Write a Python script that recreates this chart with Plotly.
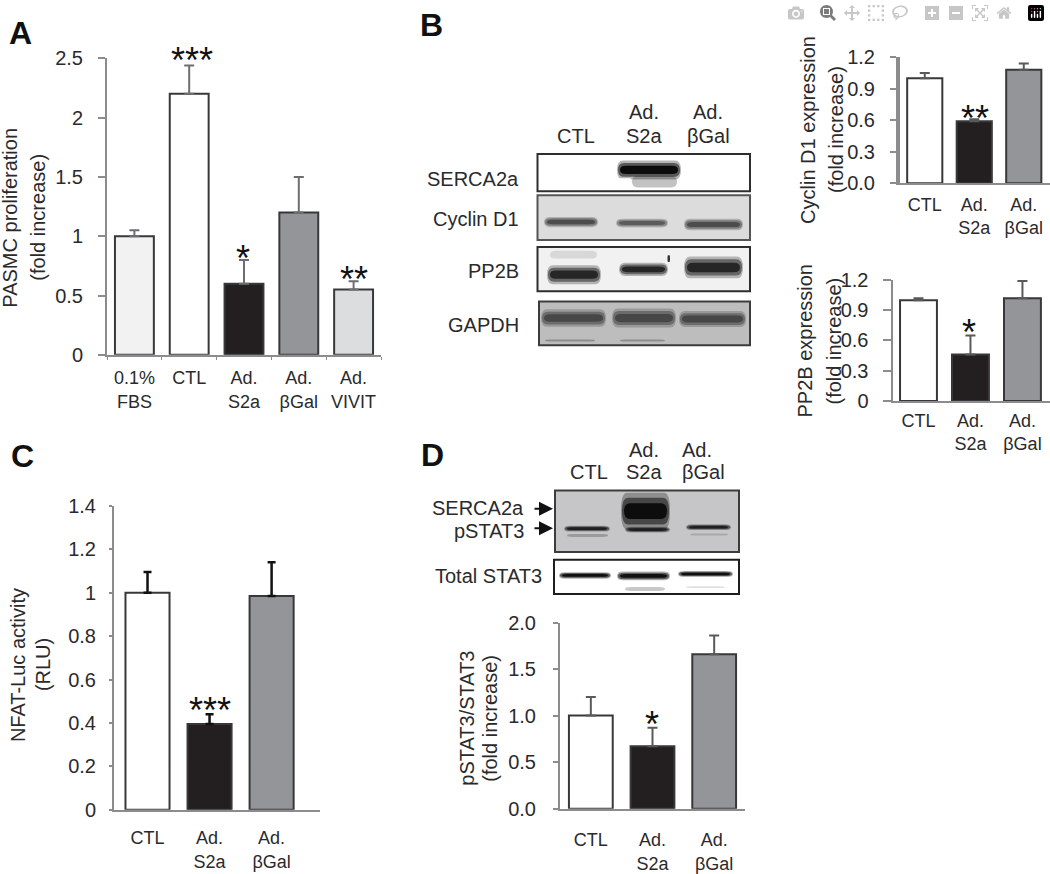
import plotly.graph_objects as go

W, H = 1050, 874
FONT = "Liberation Sans"
INK = "#2a2a2c"
AXIS = "#8c8c8e"

# bar colours
WHITE, PALE, BLACK, GREY, LIGHT = "#ffffff", "#f2f2f2", "#231f20", "#939598", "#dcddde"

# panel A
a_labels = ["0.1%<br>FBS", "CTL", "Ad.<br>S2a", "Ad.<br>βGal", "Ad.<br>VIVIT"]
a_values = [1.0, 2.2, 0.6, 1.2, 0.55]
a_errors = [0.05, 0.24, 0.2, 0.3, 0.07]
a_ticks = [0, 0.5, 1, 1.5, 2, 2.5]
a_ticktext = ["0", "0.5", "1", "1.5", "2", "2.5"]

# panel B, the two small charts
three_labels = ["CTL", "Ad.<br>S2a", "Ad.<br>βGal"]
cyclin_values = [1.0, 0.59, 1.08]
cyclin_errors = [0.05, 0.02, 0.06]
cyclin_ticks = [0, 0.3, 0.6, 0.9, 1.2]
cyclin_ticktext = ["0.0", "0.3", "0.6", "0.9", "1.2"]

pp2b_values = [1.0, 0.46, 1.02]
pp2b_errors = [0.02, 0.19, 0.17]
pp2b_ticks = [0, 0.3, 0.6, 0.9, 1.2]
pp2b_ticktext = ["0", "0.3", "0.6", "0.9", "1.2"]

# panel C
nfat_values = [1.0, 0.395, 0.985]
nfat_errors = [0.095, 0.045, 0.155]
nfat_ticks = [0, 0.2, 0.4, 0.6, 0.8, 1, 1.2, 1.4]
nfat_ticktext = ["0", "0.2", "0.4", "0.6", "0.8", "1", "1.2", "1.4"]

# panel D
stat_values = [1.0, 0.67, 1.66]
stat_errors = [0.2, 0.2, 0.2]
stat_ticks = [0, 0.5, 1, 1.5, 2]
stat_ticktext = ["0.0", "0.5", "1.0", "1.5", "2.0"]

panels = [
    dict(labels=a_labels, values=a_values, errors=a_errors, ticks=a_ticks, ticktext=a_ticktext,
         colors=[PALE, WHITE, BLACK, GREY, LIGHT], left=107, right=381, top=48.5, bottom=352.7,
         ymax=2.5, xrange=[-0.5, 4.5], bargap=0.32, errcolor="#6d6e71", errwidth=2, cap=5,
         xstand=6, ystand=11, ticklen=7, axw=2, boundaries=True),
    dict(labels=three_labels, values=cyclin_values, errors=cyclin_errors, ticks=cyclin_ticks,
         ticktext=cyclin_ticktext, colors=[WHITE, BLACK, GREY], left=900, right=1050, top=47.3,
         bottom=176.7, ymax=1.2, xrange=[-0.5, 2.53], bargap=0.2, errcolor="#58595b", errwidth=2,
         cap=5, xstand=4, ystand=11, ticklen=6, axw=4),
    dict(labels=three_labels, values=pp2b_values, errors=pp2b_errors, ticks=pp2b_ticks,
         ticktext=pp2b_ticktext, colors=[WHITE, BLACK, GREY], left=892.5, right=1050, top=276,
         bottom=400, ymax=1.2, xrange=[-0.5, 2.53], bargap=0.21, errcolor="#58595b", errwidth=2,
         cap=5, xstand=2, ystand=10, ticklen=8, axw=2),
    dict(labels=three_labels, values=nfat_values, errors=nfat_errors, ticks=nfat_ticks,
         ticktext=nfat_ticktext, colors=[WHITE, BLACK, GREY], left=114, right=320, top=507.7,
         bottom=819.3, ymax=1.4, xrange=[-0.54, 2.78], bargap=0.22, errcolor="#111111", errwidth=2.5,
         cap=4, xstand=11, ystand=9, ticklen=3, axw=2),
    dict(labels=three_labels, values=stat_values, errors=stat_errors, ticks=stat_ticks,
         ticktext=stat_ticktext, colors=[WHITE, BLACK, GREY], left=560, right=745, top=627.3,
         bottom=818.3, ymax=2.0, xrange=[-0.5, 2.5], bargap=0.29, errcolor="#58595b", errwidth=2,
         cap=5, xstand=14, ystand=13, ticklen=5, axw=2),
]


def px(x):
    return x / W


def py(y):
    return 1 - y / H


fig = go.Figure()
layout = {}
for i, p in enumerate(panels, start=1):
    xname, yname = ("xaxis", "yaxis") if i == 1 else (f"xaxis{i}", f"yaxis{i}")
    fig.add_trace(go.Bar(
        x=p["labels"], y=p["values"],
        xaxis=f"x{i}", yaxis=f"y{i}",
        marker=dict(color=p["colors"], line=dict(color="#38383a", width=2)),
        error_y=dict(type="data", symmetric=False, array=p["errors"], arrayminus=[0] * len(p["errors"]),
                     color=p["errcolor"], thickness=p["errwidth"], width=p["cap"]),
        showlegend=False,
    ))
    layout[xname] = dict(
        domain=[px(p["left"]), px(p["right"])], anchor=f"y{i}", type="category",
        categoryorder="array", categoryarray=p["labels"], range=p["xrange"],
        showline=True, linecolor=AXIS, linewidth=2, showgrid=False, zeroline=False,
        ticks="outside" if p.get("boundaries") else "", tickson="boundaries" if p.get("boundaries") else "labels",
        ticklen=3, tickcolor=AXIS, tickangle=0, ticklabelstandoff=p["xstand"],
        tickfont=dict(family=FONT, size=18, color=INK),
    )
    layout[yname] = dict(
        domain=[py(p["bottom"]), py(p["top"])], anchor=f"x{i}", range=[0, p["ymax"]],
        showline=True, linecolor=AXIS, linewidth=p["axw"], showgrid=False, zeroline=False,
        tickmode="array", tickvals=p["ticks"], ticktext=p["ticktext"],
        ticks="outside", ticklen=p["ticklen"], tickcolor=AXIS, tickwidth=2, ticklabelstandoff=p["ystand"],
        tickfont=dict(family=FONT, size=20, color=INK),
    )
    fig.update_layout(**{"bargap": p["bargap"]})

annotations = []
shapes = []


def text(x, y, s, size=20, anchor="center", bold=False, angle=0, color=INK):
    annotations.append(dict(
        x=px(x), y=py(y), xref="paper", yref="paper", text=f"<b>{s}</b>" if bold else s,
        showarrow=False, xanchor=anchor, yanchor="middle", textangle=angle,
        font=dict(family=FONT, size=size, color=color),
    ))


def stars(x, y, count):
    text(x, y + 9, "*" * count, size=36, color="#111111")


def frame(x0, y0, x1, y1, fill, line="#2e2e2e", width=2):
    shapes.append(dict(type="rect", xref="paper", yref="paper", x0=px(x0), x1=px(x1),
                       y0=py(y0), y1=py(y1), fillcolor=fill, line=dict(color=line, width=width)))


def lens(x0, x1, yc, h, color, opacity=1.0):
    # band shape, tapered at both ends
    t = h / 2
    pad = min(6, (x1 - x0) / 6)
    d = (f"M {px(x0)} {py(yc)} Q {px(x0)} {py(yc - t)} {px(x0 + pad)} {py(yc - t)} "
         f"L {px(x1 - pad)} {py(yc - t)} Q {px(x1)} {py(yc - t)} {px(x1)} {py(yc)} "
         f"Q {px(x1)} {py(yc + t)} {px(x1 - pad)} {py(yc + t)} L {px(x0 + pad)} {py(yc + t)} "
         f"Q {px(x0)} {py(yc + t)} {px(x0)} {py(yc)} Z")
    shapes.append(dict(type="path", xref="paper", yref="paper", path=d, fillcolor=color,
                       opacity=opacity, line=dict(width=0)))


def band(x0, x1, yc, h, color):
    # soft edge from a few stacked layers
    lens(x0 - 1, x1 + 1, yc, h * 1.5, color, 0.3)
    lens(x0, x1, yc, h * 1.1, color, 0.55)
    lens(x0 + 2, x1 - 2, yc, h * 0.65, color, 1.0)


# panel letters
text(20, 23, "A", size=32, bold=True, color="#111111")
text(431, 14, "B", size=32, bold=True, color="#111111")
text(22, 457, "C", size=32, bold=True, color="#111111")
text(432, 455, "D", size=32, bold=True, color="#111111")

# y axis titles, one annotation per line
text(10, 212, "PASMC proliferation", angle=-90)
text(38, 212, "(fold increase)", angle=-90)
text(808, 122, "Cyclin D1 expression", angle=-90)
text(836, 122, "(fold increase)", angle=-90)
text(805, 339, "PP2B expression", angle=-90)
text(834, 339, "(fold increase)", angle=-90)
text(18, 671, "NFAT-Luc activity", angle=-90)
text(43, 671, "(RLU)", angle=-90)
text(467, 726, "pSTAT3/STAT3", angle=-90)
text(490, 726, "(fold increase)", angle=-90)

# significance marks
stars(192, 42, 3)
stars(243, 245, 1)
stars(354, 266, 2)
stars(975, 101, 2)
stars(969, 321, 1)
stars(210, 709, 3)
stars(652, 723, 1)

# blots of panel B
for y, s in [(172, "SERCA2a"), (213, "Cyclin D1"), (267, "PP2B"), (322, "GAPDH")]:
    text(521, y, s, anchor="right")
text(576, 128, "CTL")
text(644, 104, "Ad.")
text(644, 128, "S2a")
text(708, 104, "Ad.")
text(708, 128, "βGal")

frame(537.5, 146.7, 750, 185, "#ffffff")
lens(632, 677, 175, 12, "#a8a8a8", 0.7)
band(618, 680, 163, 13, "#0c0c0c")
lens(617, 632, 177, 11, "#ffffff")

frame(537.5, 189, 750, 235, "#dcdcdc", line="#555555")
band(545, 597, 216.5, 7, "#4c4c4c")
band(617, 667, 217.5, 6, "#5c5c5c")
band(685, 742, 219, 8, "#4c4c4c")

frame(537.5, 242, 750, 287.5, "#f1f1f1")
lens(550, 597, 250, 8, "#d8d8d8")
band(548, 600, 270.5, 13, "#262626")
band(620, 667, 265, 9, "#262626")
band(685, 742, 263, 15, "#262626")
lens(667.5, 670, 254, 7, "#333333")

frame(539, 298, 750, 343, "#bdbdbd", line="#3c3c3c")
band(542, 605, 315, 12, "#474747")
band(613, 675, 315, 13, "#474747")
band(680, 745, 316, 11, "#474747")
lens(545, 595, 338, 2, "#8e8e8e")
lens(620, 665, 338, 2, "#8e8e8e")

# blots of panel D
text(589, 473, "CTL")
text(644, 450, "Ad.")
text(644, 473, "S2a")
text(697, 450, "Ad.")
text(703, 473, "βGal")
text(526, 510, "SERCA2a", anchor="right")
text(526, 533, "pSTAT3", anchor="right")
text(433, 580, "Total STAT3", anchor="left")

frame(555, 492, 739, 555, "#c6c6c8", line="#3c3c3c")
band(622, 669, 513, 25, "#0d0d0d")
band(565, 609, 531, 4, "#1e1e1e")
band(626, 669, 532, 4, "#1e1e1e")
band(687, 730, 529.5, 4, "#1e1e1e")
lens(567, 608, 538, 3, "#9a9a9a")
lens(690, 728, 537, 2, "#a8a8a8")

frame(554, 563, 739, 598, "#ffffff", line="#1e1e1e")
band(560, 610, 579, 4.5, "#111111")
band(618, 669, 579.5, 6, "#111111")
band(679, 732, 577.5, 4, "#111111")
lens(625, 665, 593, 4, "#c8c8c8")
lens(686, 725, 591, 2, "#e0e0e0")

for y in [510.5, 530.5]:
    annotations.append(dict(
        x=px(553), y=py(y), xref="paper", yref="paper", ax=-20, ay=0, axref="pixel", ayref="pixel",
        text="", showarrow=True, arrowhead=2, arrowsize=1.4, arrowwidth=2, arrowcolor="#111111",
    ))

fig.update_layout(
    width=W, height=H,
    margin=dict(l=0, r=0, t=0, b=0),
    paper_bgcolor="white", plot_bgcolor="white",
    showlegend=False,
    annotations=annotations,
    shapes=shapes,
    **layout,
)
fig.write_html("out.html", post_script="document.body.style.margin='0';")
